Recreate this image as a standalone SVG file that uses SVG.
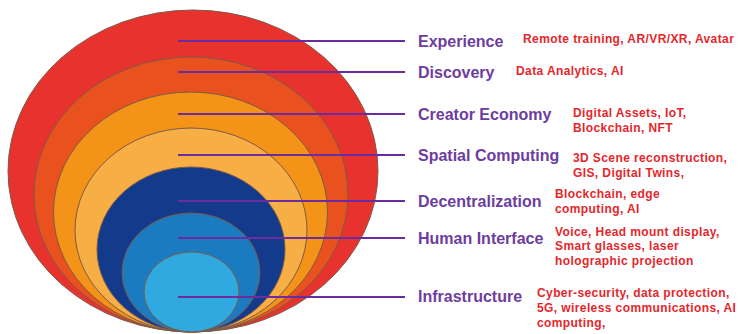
<svg xmlns="http://www.w3.org/2000/svg" width="740" height="334" viewBox="0 0 740 334">
  <style>
    .ring { stroke: #7d5a48; stroke-width: 1; }
    .lead { stroke: #6a2c9e; stroke-width: 2; fill: none; }
    .layer { font-family: "Liberation Sans", Arial, sans-serif; font-weight: bold; font-size: 16px; fill: #6c3d9f; }
    .tech { font-family: "Liberation Sans", Arial, sans-serif; font-weight: bold; font-size: 12px; letter-spacing: 0.4px; fill: #e5262b; }
  </style>

  <!-- nested layers, all touching at the bottom point -->
  <g id="rings">
    <ellipse id="ring-experience" class="ring" cx="193" cy="171" rx="185" ry="161" fill="#e8322e"/>
    <ellipse id="ring-discovery" class="ring" cx="191" cy="194.5" rx="157" ry="137.5" fill="#e9521f"/>
    <ellipse id="ring-creator" class="ring" cx="190.5" cy="212" rx="137" ry="120" fill="#f39418"/>
    <ellipse id="ring-spatial" class="ring" cx="191" cy="230" rx="116" ry="102" fill="#f6ae45"/>
    <ellipse id="ring-decentral" class="ring" cx="191" cy="249.5" rx="94" ry="82.5" fill="#143a8c"/>
    <ellipse id="ring-human" class="ring" cx="191" cy="272.5" rx="69" ry="59.5" fill="#1b7bc1"/>
    <ellipse id="ring-infra" class="ring" cx="191.5" cy="292" rx="47.5" ry="40" fill="#2fa9e0"/>
  </g>

  <!-- leader lines from each layer to its label -->
  <g id="connectors">
    <line class="lead" x1="178" y1="41" x2="405" y2="41"/>
    <line class="lead" x1="178" y1="72" x2="405" y2="72"/>
    <line class="lead" x1="178" y1="114" x2="405" y2="114"/>
    <line class="lead" x1="178" y1="155" x2="405" y2="155"/>
    <line class="lead" x1="178" y1="201" x2="405" y2="201"/>
    <line class="lead" x1="178" y1="238" x2="405" y2="238"/>
    <line class="lead" x1="178" y1="297" x2="405" y2="297"/>
  </g>

  <g id="experience">
    <text class="layer" x="418" y="46.5">Experience</text>
    <text class="tech" x="523" y="43">Remote training, AR/VR/XR, Avatar</text>
  </g>
  <g id="discovery">
    <text class="layer" x="418" y="77.5">Discovery</text>
    <text class="tech" x="516" y="75">Data Analytics, AI</text>
  </g>
  <g id="creator-economy">
    <text class="layer" x="418" y="120">Creator Economy</text>
    <text class="tech" x="573" y="117">Digital Assets, IoT,</text>
    <text class="tech" x="573" y="132">Blockchain, NFT</text>
  </g>
  <g id="spatial-computing">
    <text class="layer" x="418" y="161">Spatial Computing</text>
    <text class="tech" x="573" y="162">3D Scene reconstruction,</text>
    <text class="tech" x="573" y="177">GIS, Digital Twins,</text>
  </g>
  <g id="decentralization">
    <text class="layer" x="418" y="207">Decentralization</text>
    <text class="tech" x="555" y="198">Blockchain, edge</text>
    <text class="tech" x="555" y="213">computing, AI</text>
  </g>
  <g id="human-interface">
    <text class="layer" x="418" y="244">Human Interface</text>
    <text class="tech" x="555" y="235.5">Voice, Head mount display,</text>
    <text class="tech" x="555" y="250">Smart glasses, laser</text>
    <text class="tech" x="555" y="265">holographic projection</text>
  </g>
  <g id="infrastructure">
    <text class="layer" x="418" y="302">Infrastructure</text>
    <text class="tech" x="537" y="297">Cyber-security, data protection,</text>
    <text class="tech" x="537" y="312">5G, wireless communications, AI</text>
    <text class="tech" x="537" y="327">computing,</text>
  </g>
</svg>
